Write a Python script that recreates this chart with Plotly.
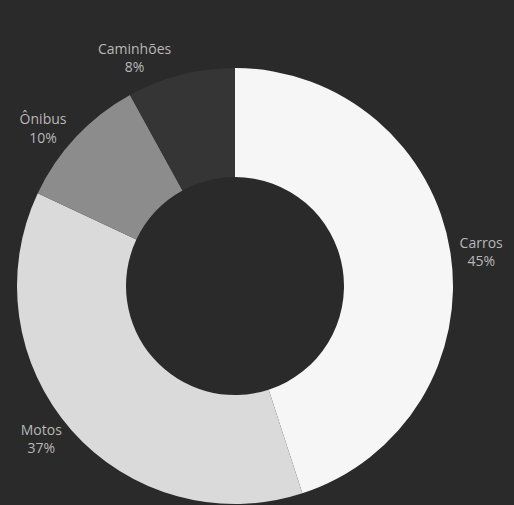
import plotly.graph_objects as go

categories = ["Carros", "Motos", "Ônibus", "Caminhões"]
shares = [45, 37, 10, 8]
slice_colors = ["#f6f6f6", "#dadada", "#8c8c8c", "#353535"]

fig = go.Figure(
    go.Pie(
        labels=categories,
        values=shares,
        hole=0.5,
        sort=False,
        direction="clockwise",
        rotation=0,
        marker=dict(colors=slice_colors, line=dict(width=0)),
        textposition="outside",
        texttemplate="%{label}<br>%{percent}",
        textfont=dict(family="Open Sans", size=14, color="#b8b8b8"),
        showlegend=False,
        hoverinfo="label+percent",
    )
)

fig.update_layout(
    width=514,
    height=510,
    margin=dict(l=15, r=59, t=68, b=0),
    paper_bgcolor="#2a2a2a",
    plot_bgcolor="#2a2a2a",
)

fig.write_html(
    "out.html",
    config={"displayModeBar": False},
    post_script="document.body.style.margin='0';document.body.style.overflow='hidden';document.body.style.background='#2a2a2a';",
)
